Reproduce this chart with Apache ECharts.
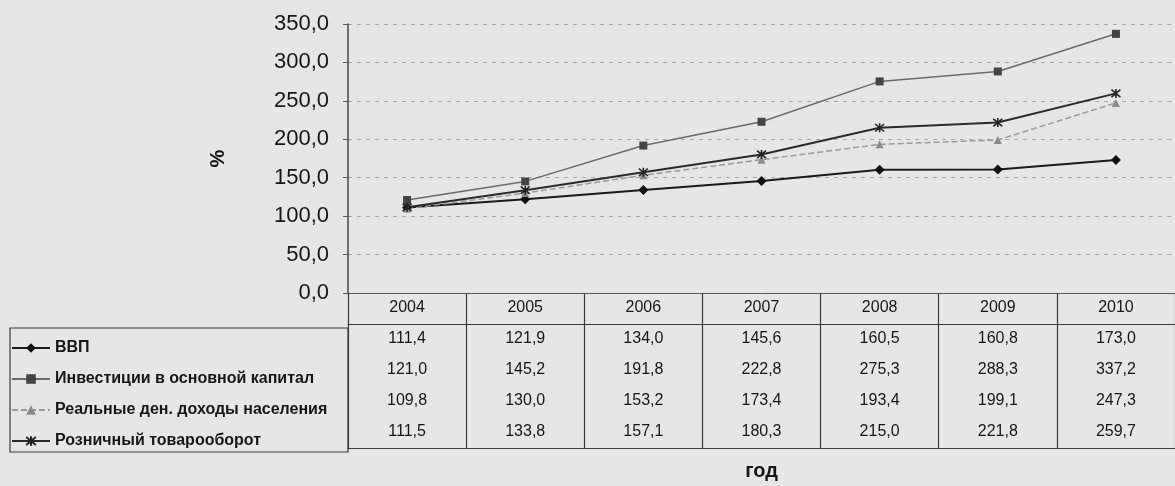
<!DOCTYPE html>
<html>
<head>
<meta charset="utf-8">
<script src="https://cdn.jsdelivr.net/npm/echarts@6/dist/echarts.min.js"></script>
<style>
html,body{margin:0;padding:0;background:#e6e6e6;}
#chart{width:1175px;height:486px;}
</style>
</head>
<body>
<div id="chart"></div>
<script>
var years = ['2004', '2005', '2006', '2007', '2008', '2009', '2010'];
var seriesNames = ['ВВП', 'Инвестиции в основной капитал', 'Реальные ден. доходы населения', 'Розничный товарооборот'];
var gdp = [111.4, 121.9, 134.0, 145.6, 160.5, 160.8, 173.0];
var invest = [121.0, 145.2, 191.8, 222.8, 275.3, 288.3, 337.2];
var income = [109.8, 130.0, 153.2, 173.4, 193.4, 199.1, 247.3];
var retail = [111.5, 133.8, 157.1, 180.3, 215.0, 221.8, 259.7];
var yTicks = [0, 50, 100, 150, 200, 250, 300, 350];

var rows = [gdp, invest, income, retail];
function fmt(v) { return v.toFixed(1).replace('.', ','); }

var FONT = 'Liberation Sans';
var TXT = '#161616';
var BORDER = '#3a3a3a';
var ROW = 31;

var xAxes = [{
  type: 'category', data: years, gridIndex: 0, position: 'bottom', boundaryGap: true,
  axisLine: { show: true, lineStyle: { color: '#555', width: 1 } },
  axisTick: { show: true, length: ROW * 5, lineStyle: { color: BORDER, width: 1.2 } },
  axisLabel: { fontFamily: FONT, fontSize: 16, color: TXT, margin: 7 },
  splitLine: { show: false }
}];
rows.forEach(function (r, i) {
  xAxes.push({
    type: 'category', data: r.map(fmt), gridIndex: 0, position: 'bottom', offset: ROW * (i + 1),
    axisLine: { show: i === 0, lineStyle: { color: BORDER, width: 1.2 } },
    axisTick: { show: false },
    axisLabel: { fontFamily: FONT, fontSize: 16, color: TXT, margin: 7 },
    splitLine: { show: false }
  });
});
xAxes.push({
  type: 'category', data: years, gridIndex: 0, position: 'bottom', offset: ROW * 5,
  axisLine: { show: true, lineStyle: { color: BORDER, width: 1.2 } },
  axisTick: { show: false }, axisLabel: { show: false },
  name: 'год', nameLocation: 'middle', nameGap: 13,
  nameTextStyle: { fontFamily: FONT, fontSize: 20, fontWeight: 'bold', color: TXT }
});
xAxes.push({ type: 'category', gridIndex: 1, data: [''], show: false });

var starPath = 'path://M0,0 L10,10 M10,0 L0,10 M5,-1 L5,11';

var option = {
  backgroundColor: '#e6e6e6',
  animation: false,
  grid: [
    { left: 348, top: 24, width: 833, height: 273 },
    { left: 10, top: 328, width: 338, height: 124, show: true, borderColor: BORDER, borderWidth: 1.2, backgroundColor: 'transparent' }
  ],
  legend: {
    orient: 'vertical', left: 6, top: 333, itemWidth: 38, itemHeight: 12, itemGap: 11,
    data: seriesNames,
    textStyle: { fontFamily: FONT, fontSize: 16, fontWeight: 'bold', color: TXT, lineHeight: 20 },
    inactiveColor: '#999'
  },
  xAxis: xAxes,
  yAxis: [{
    type: 'value', gridIndex: 0, min: 0, max: 350, interval: 50,
    axisLine: { show: true, lineStyle: { color: '#444', width: 1.5 } },
    axisTick: { show: true, length: 5, lineStyle: { color: '#555' } },
    axisLabel: { fontFamily: FONT, fontSize: 22, color: TXT, margin: 19,
      formatter: function (v) { return yTicks.indexOf(v) >= 0 ? fmt(v) : ''; } },
    splitLine: { show: true, lineStyle: { color: '#a8a8a8', type: [4, 5], width: 1 } },
    name: '%', nameLocation: 'middle', nameRotate: 90, nameGap: 120,
    nameTextStyle: { fontFamily: FONT, fontSize: 20, fontWeight: 'bold', color: TXT }
  }, { type: 'value', gridIndex: 1, show: false }],
  series: [
    { name: seriesNames[0], type: 'line', data: gdp, symbol: 'diamond', symbolSize: 10,
      lineStyle: { color: '#1a1a1a', width: 2 }, itemStyle: { color: '#111' } },
    { name: seriesNames[1], type: 'line', data: invest, symbol: 'rect', symbolSize: 8,
      lineStyle: { color: '#6a6a6a', width: 1.5 }, itemStyle: { color: '#444' } },
    { name: seriesNames[2], type: 'line', data: income, symbol: 'triangle', symbolSize: 8,
      lineStyle: { color: '#9a9a9a', width: 1.5, type: [6, 3] }, itemStyle: { color: '#8a8a8a' } },
    { name: seriesNames[3], type: 'line', data: retail, symbol: starPath, symbolSize: 9,
      lineStyle: { color: '#2a2a2a', width: 2 }, itemStyle: { color: '#222', borderColor: '#222', borderWidth: 1.6 } }
  ]
};

var chart = echarts.init(document.getElementById('chart'), null, { renderer: 'canvas' });
chart.setOption(option);
</script>
</body>
</html>
